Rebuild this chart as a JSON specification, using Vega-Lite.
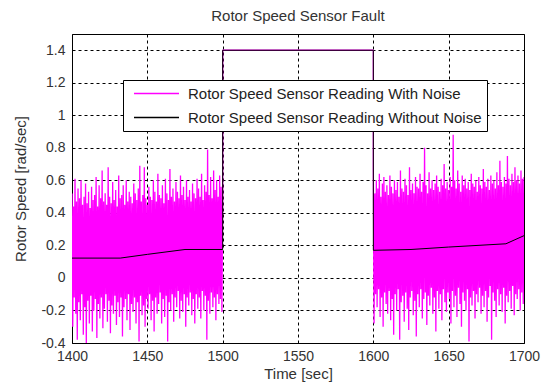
{
"$schema": "https://vega.github.io/schema/vega-lite/v6.json",
"width": 452, "height": 309,
"autosize": {"type": "none"},
"padding": {"left": 72, "top": 34, "right": 24, "bottom": 45},
"background": "white",
"title": {"text": "Rotor Speed Sensor Fault", "fontSize": 15, "fontWeight": "normal", "font": "Liberation Sans", "color": "#333333", "offset": 10},
"config": {
  "view": {"stroke": "black", "strokeWidth": 1},
  "axis": {"grid": true, "gridColor": "black", "gridDash": [3, 3], "gridOpacity": 1, "gridWidth": 1, "domain": false, "ticks": false,
    "labelFont": "Liberation Sans", "labelFontSize": 14, "labelColor": "#333333",
    "titleFont": "Liberation Sans", "titleFontSize": 15, "titleFontWeight": "normal", "titleColor": "#333333",
    "labelFlush": false, "labelOverlap": false}
},
"datasets": {
"noisy": [
{"t":1400,"v":0.52},{"t":1400.5,"v":-0.30},{"t":1401,"v":0.44},{"t":1401.5,"v":-0.12},{"t":1402,"v":0.61},{"t":1402.5,"v":-0.22},{"t":1403,"v":0.47},{"t":1403.5,"v":-0.38},{"t":1404,"v":0.55},{"t":1404.5,"v":-0.15},
{"t":1405,"v":0.49},{"t":1405.5,"v":-0.26},{"t":1406,"v":0.60},{"t":1406.5,"v":-0.10},{"t":1407,"v":0.45},{"t":1407.5,"v":-0.35},{"t":1408,"v":0.50},{"t":1408.5,"v":-0.18},{"t":1409,"v":0.58},{"t":1409.5,"v":-0.40},
{"t":1410,"v":0.46},{"t":1410.5,"v":-0.14},{"t":1411,"v":0.53},{"t":1411.5,"v":-0.28},{"t":1412,"v":0.43},{"t":1412.5,"v":-0.11},{"t":1413,"v":0.56},{"t":1413.5,"v":-0.33},{"t":1414,"v":0.48},{"t":1414.5,"v":-0.20},
{"t":1415,"v":0.51},{"t":1415.5,"v":-0.13},{"t":1416,"v":0.62},{"t":1416.5,"v":-0.37},{"t":1417,"v":0.44},{"t":1417.5,"v":-0.16},{"t":1418,"v":0.57},{"t":1418.5,"v":-0.25},{"t":1419,"v":0.49},{"t":1419.5,"v":-0.12},
{"t":1420,"v":0.66},{"t":1420.5,"v":-0.31},{"t":1421,"v":0.47},{"t":1421.5,"v":-0.19},{"t":1422,"v":0.52},{"t":1422.5,"v":-0.10},{"t":1423,"v":0.45},{"t":1423.5,"v":-0.27},{"t":1424,"v":0.68},{"t":1424.5,"v":-0.14},
{"t":1425,"v":0.50},{"t":1425.5,"v":-0.34},{"t":1426,"v":0.46},{"t":1426.5,"v":-0.17},{"t":1427,"v":0.59},{"t":1427.5,"v":-0.22},{"t":1428,"v":0.48},{"t":1428.5,"v":-0.11},{"t":1429,"v":0.54},{"t":1429.5,"v":-0.29},
{"t":1430,"v":0.44},{"t":1430.5,"v":-0.15},{"t":1431,"v":0.63},{"t":1431.5,"v":-0.24},{"t":1432,"v":0.49},{"t":1432.5,"v":-0.12},{"t":1433,"v":0.51},{"t":1433.5,"v":-0.36},{"t":1434,"v":0.57},{"t":1434.5,"v":-0.18},
{"t":1435,"v":0.45},{"t":1435.5,"v":-0.13},{"t":1436,"v":0.60},{"t":1436.5,"v":-0.26},{"t":1437,"v":0.47},{"t":1437.5,"v":-0.10},{"t":1438,"v":0.53},{"t":1438.5,"v":-0.32},{"t":1439,"v":0.50},{"t":1439.5,"v":-0.16},
{"t":1440,"v":0.46},{"t":1440.5,"v":-0.21},{"t":1441,"v":0.58},{"t":1441.5,"v":-0.12},{"t":1442,"v":0.52},{"t":1442.5,"v":-0.28},{"t":1443,"v":0.48},{"t":1443.5,"v":-0.15},{"t":1444,"v":0.55},{"t":1444.5,"v":-0.39},
{"t":1445,"v":0.69},{"t":1445.5,"v":-0.11},{"t":1446,"v":0.47},{"t":1446.5,"v":-0.23},{"t":1447,"v":0.51},{"t":1447.5,"v":-0.17},{"t":1448,"v":0.68},{"t":1448.5,"v":-0.30},{"t":1449,"v":0.49},{"t":1449.5,"v":-0.13},
{"t":1450,"v":0.45},{"t":1450.5,"v":-0.19},{"t":1451,"v":0.56},{"t":1451.5,"v":-0.10},{"t":1452,"v":0.50},{"t":1452.5,"v":-0.26},{"t":1453,"v":0.48},{"t":1453.5,"v":-0.14},{"t":1454,"v":0.60},{"t":1454.5,"v":-0.33},
{"t":1455,"v":0.53},{"t":1455.5,"v":-0.12},{"t":1456,"v":0.47},{"t":1456.5,"v":-0.22},{"t":1457,"v":0.64},{"t":1457.5,"v":-0.16},{"t":1458,"v":0.51},{"t":1458.5,"v":-0.09},{"t":1459,"v":0.49},{"t":1459.5,"v":-0.28},
{"t":1460,"v":0.57},{"t":1460.5,"v":-0.13},{"t":1461,"v":0.46},{"t":1461.5,"v":-0.24},{"t":1462,"v":0.61},{"t":1462.5,"v":-0.11},{"t":1463,"v":0.52},{"t":1463.5,"v":-0.39},{"t":1464,"v":0.48},{"t":1464.5,"v":-0.15},
{"t":1465,"v":0.67},{"t":1465.5,"v":-0.20},{"t":1466,"v":0.50},{"t":1466.5,"v":-0.10},{"t":1467,"v":0.55},{"t":1467.5,"v":-0.27},{"t":1468,"v":0.47},{"t":1468.5,"v":-0.12},{"t":1469,"v":0.59},{"t":1469.5,"v":-0.18},
{"t":1470,"v":0.53},{"t":1470.5,"v":-0.08},{"t":1471,"v":0.49},{"t":1471.5,"v":-0.25},{"t":1472,"v":0.63},{"t":1472.5,"v":-0.14},{"t":1473,"v":0.51},{"t":1473.5,"v":-0.21},{"t":1474,"v":0.56},{"t":1474.5,"v":-0.10},
{"t":1475,"v":0.48},{"t":1475.5,"v":-0.30},{"t":1476,"v":0.60},{"t":1476.5,"v":-0.12},{"t":1477,"v":0.50},{"t":1477.5,"v":-0.17},{"t":1478,"v":0.54},{"t":1478.5,"v":-0.09},{"t":1479,"v":0.47},{"t":1479.5,"v":-0.23},
{"t":1480,"v":0.58},{"t":1480.5,"v":-0.13},{"t":1481,"v":0.52},{"t":1481.5,"v":-0.28},{"t":1482,"v":0.49},{"t":1482.5,"v":-0.10},{"t":1483,"v":0.61},{"t":1483.5,"v":-0.19},{"t":1484,"v":0.55},{"t":1484.5,"v":-0.12},
{"t":1485,"v":0.50},{"t":1485.5,"v":-0.25},{"t":1486,"v":0.64},{"t":1486.5,"v":-0.08},{"t":1487,"v":0.48},{"t":1487.5,"v":-0.20},{"t":1488,"v":0.57},{"t":1488.5,"v":-0.11},{"t":1489,"v":0.53},{"t":1489.5,"v":-0.38},
{"t":1490,"v":0.79},{"t":1490.5,"v":-0.14},{"t":1491,"v":0.51},{"t":1491.5,"v":-0.22},{"t":1492,"v":0.62},{"t":1492.5,"v":-0.09},{"t":1493,"v":0.49},{"t":1493.5,"v":-0.18},{"t":1494,"v":0.66},{"t":1494.5,"v":-0.12},
{"t":1495,"v":0.54},{"t":1495.5,"v":-0.26},{"t":1496,"v":0.60},{"t":1496.5,"v":-0.10},{"t":1497,"v":0.50},{"t":1497.5,"v":-0.16},{"t":1498,"v":0.63},{"t":1498.5,"v":-0.13},{"t":1499,"v":0.56},{"t":1499.5,"v":-0.21},
{"t":1500,"v":0.52},{"t":1500,"v":1.4},{"t":1600,"v":1.4},
{"t":1600,"v":0.66},{"t":1600.5,"v":-0.28},{"t":1601,"v":0.52},{"t":1601.5,"v":-0.10},{"t":1602,"v":0.60},{"t":1602.5,"v":-0.18},{"t":1603,"v":0.55},{"t":1603.5,"v":-0.07},{"t":1604,"v":0.64},{"t":1604.5,"v":-0.24},
{"t":1605,"v":0.50},{"t":1605.5,"v":-0.12},{"t":1606,"v":0.58},{"t":1606.5,"v":-0.30},{"t":1607,"v":0.62},{"t":1607.5,"v":-0.09},{"t":1608,"v":0.53},{"t":1608.5,"v":-0.16},{"t":1609,"v":0.57},{"t":1609.5,"v":-0.22},
{"t":1610,"v":0.51},{"t":1610.5,"v":-0.08},{"t":1611,"v":0.63},{"t":1611.5,"v":-0.26},{"t":1612,"v":0.56},{"t":1612.5,"v":-0.13},{"t":1613,"v":0.52},{"t":1613.5,"v":-0.35},{"t":1614,"v":0.60},{"t":1614.5,"v":-0.10},
{"t":1615,"v":0.54},{"t":1615.5,"v":-0.20},{"t":1616,"v":0.59},{"t":1616.5,"v":-0.07},{"t":1617,"v":0.50},{"t":1617.5,"v":-0.38},{"t":1618,"v":0.66},{"t":1618.5,"v":-0.15},{"t":1619,"v":0.55},{"t":1619.5,"v":-0.11},
{"t":1620,"v":0.53},{"t":1620.5,"v":-0.27},{"t":1621,"v":0.61},{"t":1621.5,"v":-0.09},{"t":1622,"v":0.57},{"t":1622.5,"v":-0.19},{"t":1623,"v":0.51},{"t":1623.5,"v":-0.32},{"t":1624,"v":0.68},{"t":1624.5,"v":-0.12},
{"t":1625,"v":0.54},{"t":1625.5,"v":-0.08},{"t":1626,"v":0.58},{"t":1626.5,"v":-0.23},{"t":1627,"v":0.52},{"t":1627.5,"v":-0.14},{"t":1628,"v":0.62},{"t":1628.5,"v":-0.36},{"t":1629,"v":0.56},{"t":1629.5,"v":-0.10},
{"t":1630,"v":0.55},{"t":1630.5,"v":-0.18},{"t":1631,"v":0.64},{"t":1631.5,"v":-0.07},{"t":1632,"v":0.53},{"t":1632.5,"v":-0.25},{"t":1633,"v":0.59},{"t":1633.5,"v":-0.13},{"t":1634,"v":0.80},{"t":1634.5,"v":-0.09},
{"t":1635,"v":0.57},{"t":1635.5,"v":-0.29},{"t":1636,"v":0.52},{"t":1636.5,"v":-0.11},{"t":1637,"v":0.65},{"t":1637.5,"v":-0.17},{"t":1638,"v":0.55},{"t":1638.5,"v":-0.06},{"t":1639,"v":0.60},{"t":1639.5,"v":-0.22},
{"t":1640,"v":0.54},{"t":1640.5,"v":-0.12},{"t":1641,"v":0.58},{"t":1641.5,"v":-0.33},{"t":1642,"v":0.63},{"t":1642.5,"v":-0.08},{"t":1643,"v":0.56},{"t":1643.5,"v":-0.19},{"t":1644,"v":0.53},{"t":1644.5,"v":-0.10},
{"t":1645,"v":0.61},{"t":1645.5,"v":-0.26},{"t":1646,"v":0.57},{"t":1646.5,"v":-0.07},{"t":1647,"v":0.70},{"t":1647.5,"v":-0.15},{"t":1648,"v":0.55},{"t":1648.5,"v":-0.21},{"t":1649,"v":0.59},{"t":1649.5,"v":-0.09},
{"t":1650,"v":0.54},{"t":1650.5,"v":-0.13},{"t":1651,"v":0.62},{"t":1651.5,"v":-0.28},{"t":1652,"v":0.56},{"t":1652.5,"v":-0.08},{"t":1653,"v":0.88},{"t":1653.5,"v":-0.18},{"t":1654,"v":0.60},{"t":1654.5,"v":-0.11},
{"t":1655,"v":0.55},{"t":1655.5,"v":-0.24},{"t":1656,"v":0.66},{"t":1656.5,"v":-0.06},{"t":1657,"v":0.58},{"t":1657.5,"v":-0.16},{"t":1658,"v":0.53},{"t":1658.5,"v":-0.30},{"t":1659,"v":0.63},{"t":1659.5,"v":-0.09},
{"t":1660,"v":0.57},{"t":1660.5,"v":-0.14},{"t":1661,"v":0.61},{"t":1661.5,"v":-0.20},{"t":1662,"v":0.55},{"t":1662.5,"v":-0.07},{"t":1663,"v":0.59},{"t":1663.5,"v":-0.39},{"t":1664,"v":0.54},{"t":1664.5,"v":-0.12},
{"t":1665,"v":0.64},{"t":1665.5,"v":-0.17},{"t":1666,"v":0.58},{"t":1666.5,"v":-0.08},{"t":1667,"v":0.56},{"t":1667.5,"v":-0.25},{"t":1668,"v":0.60},{"t":1668.5,"v":-0.10},{"t":1669,"v":0.53},{"t":1669.5,"v":-0.15},
{"t":1670,"v":0.62},{"t":1670.5,"v":-0.06},{"t":1671,"v":0.57},{"t":1671.5,"v":-0.22},{"t":1672,"v":0.55},{"t":1672.5,"v":-0.11},{"t":1673,"v":0.67},{"t":1673.5,"v":-0.18},{"t":1674,"v":0.59},{"t":1674.5,"v":-0.08},
{"t":1675,"v":0.56},{"t":1675.5,"v":-0.27},{"t":1676,"v":0.61},{"t":1676.5,"v":-0.12},{"t":1677,"v":0.54},{"t":1677.5,"v":-0.05},{"t":1678,"v":0.63},{"t":1678.5,"v":-0.38},{"t":1679,"v":0.58},{"t":1679.5,"v":-0.09},
{"t":1680,"v":0.60},{"t":1680.5,"v":-0.14},{"t":1681,"v":0.55},{"t":1681.5,"v":-0.24},{"t":1682,"v":0.65},{"t":1682.5,"v":-0.07},{"t":1683,"v":0.57},{"t":1683.5,"v":-0.17},{"t":1684,"v":0.72},{"t":1684.5,"v":-0.10},
{"t":1685,"v":0.59},{"t":1685.5,"v":-0.21},{"t":1686,"v":0.56},{"t":1686.5,"v":-0.06},{"t":1687,"v":0.62},{"t":1687.5,"v":-0.28},{"t":1688,"v":0.58},{"t":1688.5,"v":-0.11},{"t":1689,"v":0.75},{"t":1689.5,"v":-0.15},
{"t":1690,"v":0.61},{"t":1690.5,"v":-0.08},{"t":1691,"v":0.57},{"t":1691.5,"v":-0.19},{"t":1692,"v":0.64},{"t":1692.5,"v":-0.05},{"t":1693,"v":0.59},{"t":1693.5,"v":-0.23},{"t":1694,"v":0.68},{"t":1694.5,"v":-0.10},
{"t":1695,"v":0.60},{"t":1695.5,"v":-0.13},{"t":1696,"v":0.63},{"t":1696.5,"v":-0.07},{"t":1697,"v":0.58},{"t":1697.5,"v":-0.20},{"t":1698,"v":0.66},{"t":1698.5,"v":-0.09},{"t":1699,"v":0.61},{"t":1699.5,"v":-0.16},
{"t":1700,"v":0.62}
],
"clean": [
{"t":1400,"v":0.122,"i":0},{"t":1432,"v":0.122,"i":1},{"t":1450,"v":0.145,"i":2},{"t":1475,"v":0.175,"i":3},{"t":1500,"v":0.175,"i":4},{"t":1500,"v":1.4,"i":5},{"t":1600,"v":1.4,"i":6},{"t":1600,"v":0.17,"i":7},{"t":1625,"v":0.175,"i":8},{"t":1650,"v":0.19,"i":9},{"t":1688,"v":0.21,"i":10},{"t":1700,"v":0.26,"i":11}
]
},
"encoding": {
  "x": {"field": "t", "type": "quantitative", "scale": {"domain": [1400, 1700], "nice": false, "zero": false},
    "axis": {"title": "Time [sec]", "values": [1400, 1450, 1500, 1550, 1600, 1650, 1700], "format": "d", "labelPadding": 6, "titlePadding": 3}},
  "y": {"field": "v", "type": "quantitative", "scale": {"domain": [-0.4, 1.5], "nice": false, "zero": false},
    "axis": {"title": "Rotor Speed [rad/sec]", "values": [-0.4, -0.2, 0, 0.2, 0.4, 0.6, 0.8, 1, 1.2, 1.4], "labelExpr": "toString(round(datum.value*10)/10)", "labelPadding": 7, "titlePadding": 12}}
},
"layer": [
{
  "data": {"name": "noisy"},
  "mark": {"type": "line", "strokeWidth": 1.3, "strokeJoin": "bevel", "clip": true},
  "encoding": {
    "color": {"datum": "Rotor Speed Sensor Reading With Noise", "type": "nominal",
      "scale": {"domain": ["Rotor Speed Sensor Reading With Noise", "Rotor Speed Sensor Reading Without Noise"], "range": ["#ff00ff", "#000000"]},
      "legend": {"title": null, "orient": "none", "legendX": 51, "legendY": 46, "fillColor": "white", "strokeColor": "black", "padding": 5,
        "labelFont": "Liberation Sans", "labelFontSize": 15, "labelColor": "#222222", "labelLimit": 0, "symbolType": "M-3,0H3", "symbolSize": 225, "symbolStrokeWidth": 1.5,
        "symbolOffset": 20, "labelOffset": 23, "rowPadding": 7}}
  }
},
{
  "data": {"name": "clean"},
  "mark": {"type": "line", "strokeWidth": 1, "clip": true},
  "encoding": {
    "order": {"field": "i"},
    "color": {"datum": "Rotor Speed Sensor Reading Without Noise", "type": "nominal"}
  }
}
]
}
